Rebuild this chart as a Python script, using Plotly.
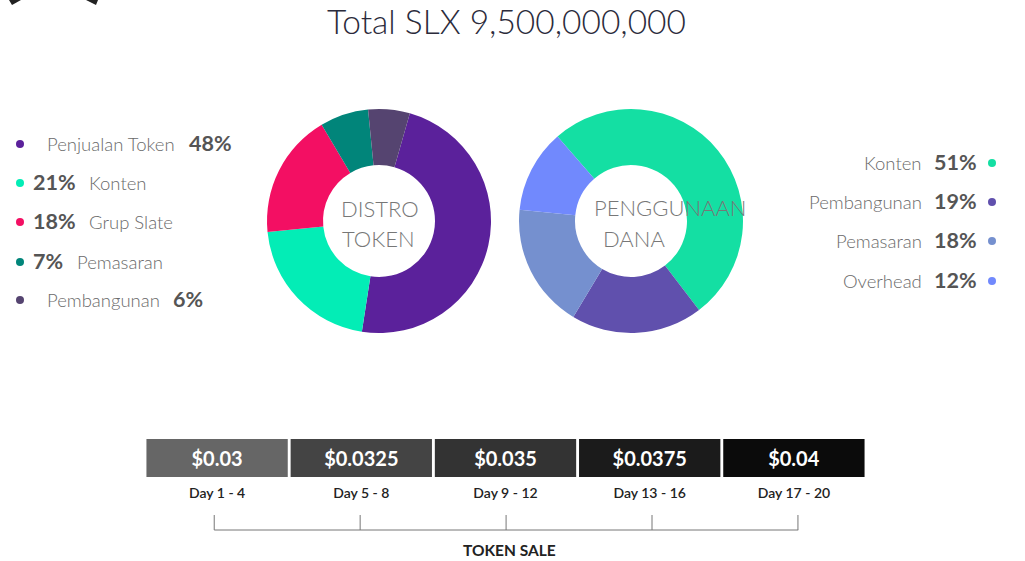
import plotly.graph_objects as go

W, H = 1025, 561

# ---- data ----
distro_labels = ["Penjualan Token", "Konten", "Grup Slate", "Pemasaran", "Pembangunan"]
distro_values = [48, 21, 18, 7, 6]
distro_colors = ["#5b219b", "#03edb6", "#f30f63", "#01857a", "#554470"]

dana_labels = ["Konten", "Pembangunan", "Pemasaran", "Overhead"]
dana_values = [51, 19, 18, 12]
dana_colors = ["#14dfa3", "#6050ad", "#7590cf", "#7189fd"]

sale_days = ["Day 1 - 4", "Day 5 - 8", "Day 9 - 12", "Day 13 - 16", "Day 17 - 20"]
sale_prices = ["$0.03", "$0.0325", "$0.035", "$0.0375", "$0.04"]
sale_colors = ["#666666", "#444444", "#333333", "#1b1b1b", "#0b0b0b"]

FONT = "Lato"
LIGHT = "Lato Light, Lato"

def px_x(x):
    return x / W

def px_y(y):
    return 1 - y / H

fig = go.Figure()

# donuts
fig.add_trace(go.Pie(
    labels=distro_labels, values=distro_values, hole=0.5, sort=False,
    direction="clockwise", rotation=16, textinfo="none", hoverinfo="label+percent",
    marker=dict(colors=distro_colors, line=dict(width=0)),
    domain=dict(x=[px_x(267), px_x(491)], y=[px_y(333), px_y(109)]),
    showlegend=False,
))
fig.add_trace(go.Pie(
    labels=dana_labels, values=dana_values, hole=0.5, sort=False,
    direction="clockwise", rotation=319, textinfo="none", hoverinfo="label+percent",
    marker=dict(colors=dana_colors, line=dict(width=0)),
    domain=dict(x=[px_x(519), px_x(743)], y=[px_y(333), px_y(109)]),
    showlegend=False,
))

# token sale bars
fig.add_trace(go.Bar(
    x=sale_days, y=[1] * len(sale_days), xaxis="x2", yaxis="y2",
    marker=dict(color=sale_colors, line=dict(width=0)),
    text=sale_prices, textposition="inside", insidetextanchor="middle",
    textfont=dict(family=FONT, size=20, color="white", weight="bold"),
    hoverinfo="x+text", showlegend=False,
))

# overlay pixel axes (for legends/annotations)
fig.add_trace(go.Scatter(x=[None], y=[None], xaxis="x", yaxis="y", showlegend=False))

ann = []
def txt(x, y, s, size, color, anchor="left", weight="normal", family=FONT):
    ann.append(dict(x=x, y=y, xref="x", yref="y", text=s, showarrow=False,
                    xanchor=anchor, yanchor="middle",
                    font=dict(family=family, size=size, color=color, weight=weight)))

# title
txt(506, 21, "Total SLX 9,500,000,000", 33.5, "#2b2b3b", "center", 300, LIGHT)

# donut centre labels
txt(380, 208, "DISTRO", 22, "#777777", "center", 300, LIGHT)
txt(378, 238, "TOKEN", 22, "#777777", "center", 300, LIGHT)
txt(592, 207, "PENGGUNAAN", 22, "#777777", "left", 300, LIGHT)
txt(601, 238, "DANA", 22, "#777777", "left", 300, LIGHT)

# left legend
rows_left = [144, 183, 222, 262, 300]
LBL = "#6a6a6a"
PCT = "#555555"
for i, (lab, val) in enumerate(zip(distro_labels, distro_values)):
    y = rows_left[i]
    if i in (0, 4):
        txt(45, y, lab, 18.5, LBL, "left", 300, LIGHT)
        xp = 187 if i == 0 else 171
        txt(xp, y - 1, f"{val}%", 21.5, PCT, "left", "bold")
    else:
        txt(31, y - 1, f"{val}%", 21.5, PCT, "left", "bold")
        xl = 75 if val < 10 else 87
        txt(xl, y, lab, 18.5, LBL, "left", 300, LIGHT)

# right legend
rows_right = [163, 202, 241, 281]
for i, (lab, val) in enumerate(zip(dana_labels, dana_values)):
    y = rows_right[i]
    txt(979, y - 1, f"{val}%", 21.5, PCT, "right", "bold")
    txt(924, y, lab, 18.5, LBL, "right", 300, LIGHT)

# token sale caption
txt(509, 550, "TOKEN SALE", 15.5, "#222222", "center", "bold")

shapes = []
for i, c in enumerate(distro_colors):
    shapes.append(dict(type="circle", xref="x", yref="y", x0=16, x1=24,
                       y0=rows_left[i] - 4, y1=rows_left[i] + 4,
                       fillcolor=c, line=dict(width=0)))
for i, c in enumerate(dana_colors):
    shapes.append(dict(type="circle", xref="x", yref="y", x0=988, x1=996,
                       y0=rows_right[i] - 4, y1=rows_right[i] + 4,
                       fillcolor=c, line=dict(width=0)))

# bracket under the sale (category coordinates of x2)
n = len(sale_days)
by0, by1 = px_y(530), px_y(515)
shapes.append(dict(type="line", xref="x2", yref="paper", x0=-0.02, x1=n - 1 + 0.03,
                   y0=by0, y1=by0, line=dict(color="#777777", width=1)))
for i in range(n):
    xi = i + (-0.02 + 0.012 * i)
    shapes.append(dict(type="line", xref="x2", yref="paper", x0=xi, x1=xi,
                       y0=by0, y1=by1, line=dict(color="#777777", width=1)))

# top-left corner fragments
shapes.append(dict(type="path", xref="x", yref="y", path="M 9 0 L 21 0 L 12 5 Z",
                   fillcolor="#222222", line=dict(width=0)))
shapes.append(dict(type="path", xref="x", yref="y", path="M 86 0 L 98 0 L 96 5 Z",
                   fillcolor="#222222", line=dict(width=0)))

fig.update_layout(
    width=W, height=H, margin=dict(l=0, r=0, t=0, b=0),
    paper_bgcolor="white", plot_bgcolor="rgba(0,0,0,0)",
    font=dict(family=FONT),
    xaxis=dict(range=[0, W], domain=[0, 1], visible=False, fixedrange=True),
    yaxis=dict(range=[H, 0], domain=[0, 1], visible=False, fixedrange=True),
    xaxis2=dict(domain=[px_x(145), px_x(866)], anchor="y2", type="category",
                showgrid=False, zeroline=False, showline=False, ticks="",
                tickfont=dict(family=FONT, size=14, color="#222222", weight=600),
                ticklabelstandoff=6),
    yaxis2=dict(domain=[px_y(477), px_y(439)], anchor="x2", range=[0, 1],
                visible=False, fixedrange=True),
    bargap=0.02,
    annotations=ann, shapes=shapes,
    uniformtext=dict(minsize=10, mode="show"),
)

fig.write_html("out.html", config={"displayModeBar": False},
               post_script="document.body.style.margin='0';document.body.style.padding='0';")
